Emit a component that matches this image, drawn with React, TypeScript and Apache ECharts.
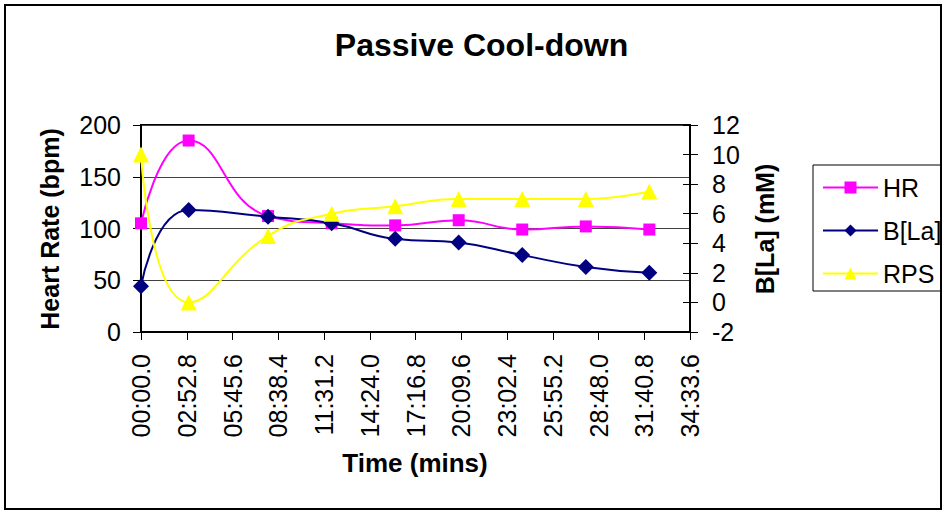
import React, { useEffect, useRef } from "react";
import * as echarts from "echarts";

// ---- data ----
const timeMinutes = [0, 3, 8, 12, 16, 20, 24, 28, 32];
const heartRate = [105, 185, 112, 105, 103, 108, 99, 102, 99];
const bloodLactate = [1.1, 6.25, 5.8, 5.35, 4.3, 4.05, 3.2, 2.4, 2.0];
const rpsValues = [10, 0, 4.5, 6, 6.5, 7, 7, 7, 7.5];
const seriesNames = ["HR", "B[La]", "RPS"];
const chartTitle = "Passive Cool-down";
const xAxisTitle = "Time (mins)";
const leftAxisTitle = "Heart Rate (bpm)";
const rightAxisTitle = "B[La] (mM)";
// time axis in seconds: ticks every 02:52.8 up to 34:33.6
const timeTickSeconds = 172.8;
const timeMaxSeconds = 2073.6;
const hrMin = 0, hrMax = 200, hrStep = 50;
const laMin = -2, laMax = 12, laStep = 2;

const FONT = "'Liberation Sans', Arial, sans-serif";

function fmtTime(v: number): string {
  const t = Math.round(v * 10);
  const m = Math.floor(t / 600);
  const r = t - m * 600;
  const s = Math.floor(r / 10);
  const d = r % 10;
  return `${String(m).padStart(2, "0")}:${String(s).padStart(2, "0")}.${d}`;
}

function pairs(vals: number[]) {
  return timeMinutes.map((m, i) => [m * 60, vals[i]]);
}

export default function App() {
  const ref = useRef<HTMLDivElement>(null);
  useEffect(() => {
    if (!ref.current) return;
    const chart = echarts.init(ref.current, null, { renderer: "svg" });
    const black = "#000";
    chart.setOption({
      animation: false,
      backgroundColor: "#fff",
      textStyle: { fontFamily: FONT },
      grid: {
        left: 141,
        right: 256,
        top: 125,
        bottom: 180,
        show: true,
        borderColor: black,
        borderWidth: 2,
        backgroundColor: "transparent",
      },
      legend: {
        orient: "vertical",
        left: 813,
        top: 165,
        padding: [10, 0, 5, 9],
        itemGap: 18,
        itemWidth: 55,
        itemHeight: 15,
        borderColor: black,
        borderWidth: 1,
        borderRadius: 0,
        data: seriesNames,
        textStyle: { fontSize: 25, color: black, fontFamily: FONT },
      },
      xAxis: {
        type: "value",
        min: 0,
        max: timeMaxSeconds,
        interval: timeTickSeconds,
        axisLine: { show: true, lineStyle: { color: black, width: 2 } },
        axisTick: { show: true, inside: false, length: 8, lineStyle: { color: black, width: 1 } },
        axisLabel: {
          rotate: 90,
          margin: 22,
          fontSize: 25,
          color: black,
          fontFamily: FONT,
          formatter: (v: number) => fmtTime(v),
        },
        splitLine: { show: false },
      },
      yAxis: [
        {
          type: "value",
          position: "left",
          min: hrMin,
          max: hrMax,
          interval: hrStep,
          axisLine: { show: true, lineStyle: { color: black, width: 2 } },
          axisTick: { show: true, inside: false, length: 8, lineStyle: { color: black, width: 1 } },
          axisLabel: { margin: 20, fontSize: 25, color: black, fontFamily: FONT },
          splitLine: { show: true, lineStyle: { color: "#404040", width: 1 } },
        },
        {
          type: "value",
          position: "right",
          min: laMin,
          max: laMax,
          interval: laStep,
          axisLine: { show: true, lineStyle: { color: black, width: 2 } },
          axisTick: { show: true, inside: false, length: 8, lineStyle: { color: black, width: 1 } },
          axisLabel: { margin: 22, fontSize: 25, color: black, fontFamily: FONT },
          splitLine: { show: false },
        },
        {
          type: "value",
          position: "right",
          offset: 0,
          min: laMin,
          max: laMax,
          interval: laStep,
          axisLine: { show: false },
          axisTick: { show: true, inside: true, length: 7, lineStyle: { color: black, width: 1 } },
          axisLabel: { show: false },
          splitLine: { show: false },
        },
      ],
      graphic: [
        {
          type: "rect",
          shape: { x: 5, y: 5, width: 936, height: 504 },
          style: { fill: "none", stroke: black, lineWidth: 2 },
          z: 100,
        },
        {
          type: "text",
          x: 481.5,
          y: 44.5,
          style: {
            text: chartTitle,
            font: `bold 32px ${FONT}`,
            fill: black,
            textAlign: "center",
            textVerticalAlign: "middle",
          },
        },
        {
          type: "text",
          x: 415,
          y: 463,
          style: {
            text: xAxisTitle,
            font: `bold 26px ${FONT}`,
            fill: black,
            textAlign: "center",
            textVerticalAlign: "middle",
          },
        },
        {
          type: "text",
          x: 50,
          y: 229,
          rotation: Math.PI / 2,
          style: {
            text: leftAxisTitle,
            font: `bold 25px ${FONT}`,
            fill: black,
            textAlign: "center",
            textVerticalAlign: "middle",
          },
        },
        {
          type: "text",
          x: 765,
          y: 229,
          rotation: Math.PI / 2,
          style: {
            text: rightAxisTitle,
            font: `bold 25px ${FONT}`,
            fill: black,
            textAlign: "center",
            textVerticalAlign: "middle",
          },
        },
      ],
      series: [
        {
          name: seriesNames[0],
          type: "line",
          yAxisIndex: 0,
          data: pairs(heartRate),
          smooth: 0.5,
          symbol: "rect",
          symbolSize: 12,
          lineStyle: { color: "#FF00FF", width: 2 },
          itemStyle: { color: "#FF00FF" },
        },
        {
          name: seriesNames[1],
          type: "line",
          yAxisIndex: 1,
          data: pairs(bloodLactate),
          smooth: 0.5,
          symbol: "diamond",
          symbolSize: 16,
          lineStyle: { color: "#000080", width: 2 },
          itemStyle: { color: "#000080" },
        },
        {
          name: seriesNames[2],
          type: "line",
          yAxisIndex: 1,
          data: pairs(rpsValues),
          smooth: 0.5,
          symbol: "triangle",
          symbolSize: 16,
          lineStyle: { color: "#FFFF00", width: 2 },
          itemStyle: { color: "#FFFF00" },
        },
      ],
    });
    return () => chart.dispose();
  }, []);
  return (
    <div
      ref={ref}
      style={{ position: "fixed", left: 0, top: 0, width: 946, height: 512, background: "#fff" }}
    />
  );
}
